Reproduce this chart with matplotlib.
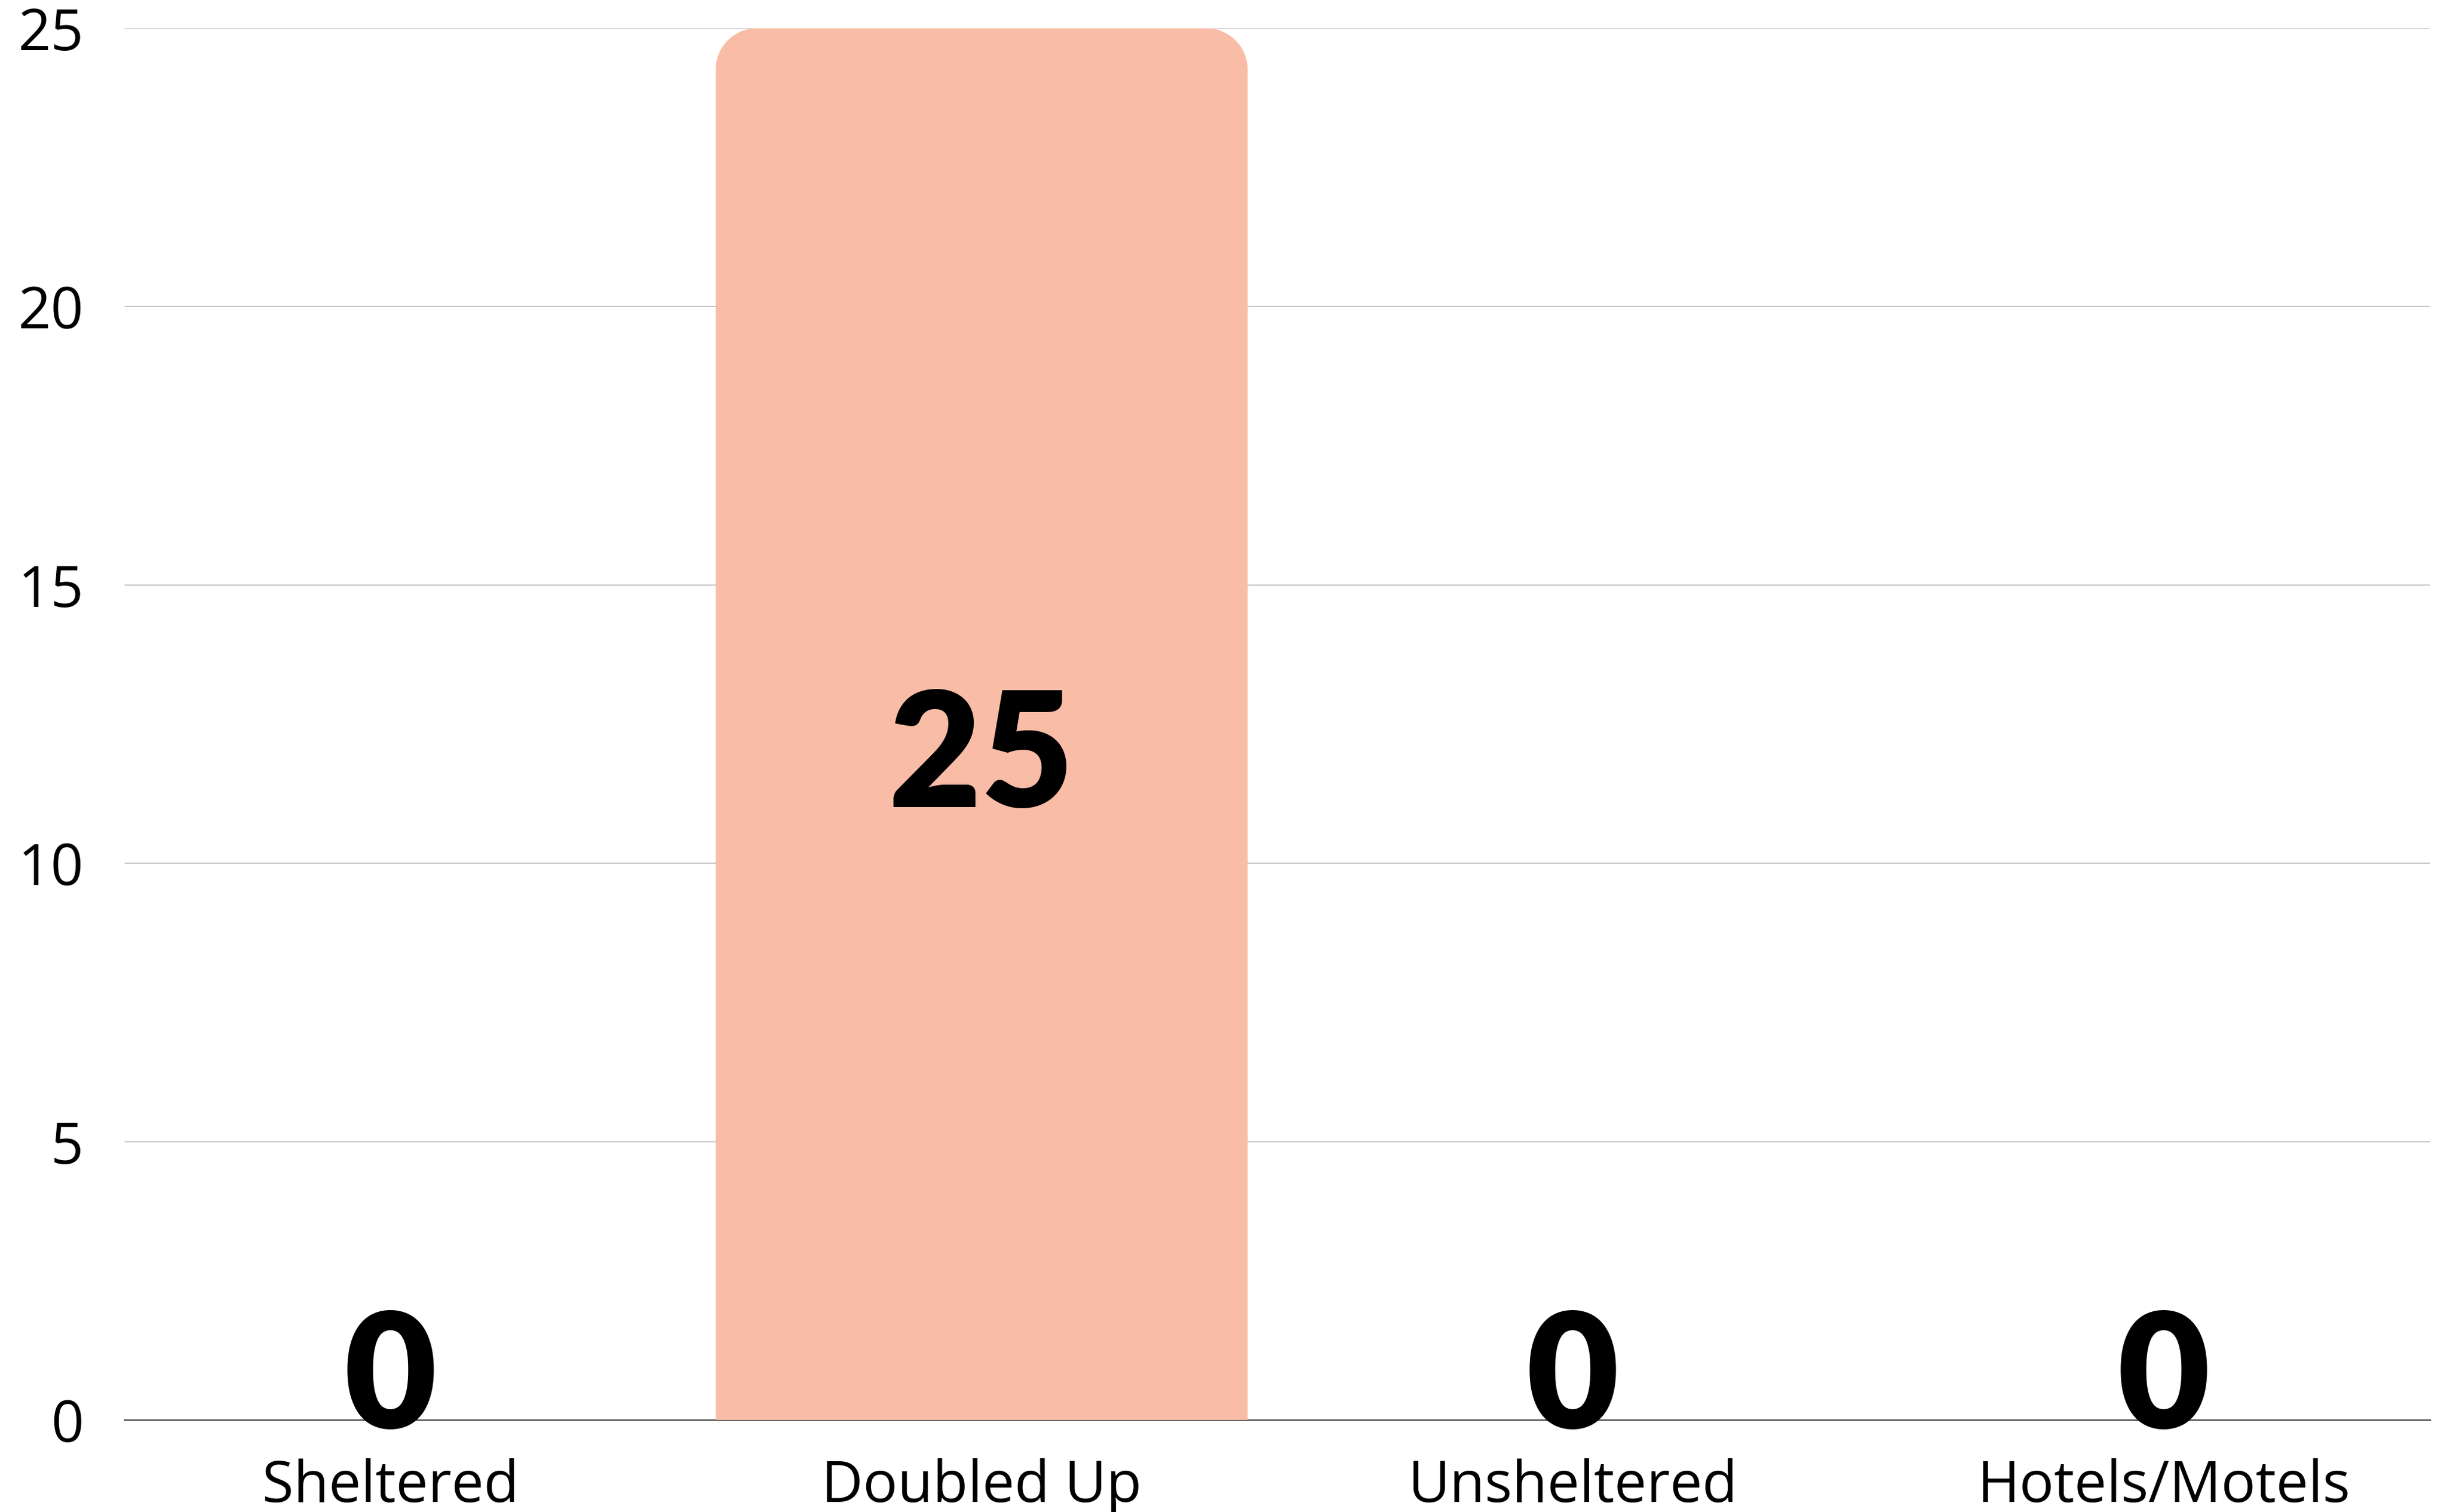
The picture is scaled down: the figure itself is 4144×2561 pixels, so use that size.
import matplotlib
matplotlib.use("Agg")
import matplotlib.pyplot as plt
from matplotlib.path import Path
from matplotlib.patches import PathPatch

categories = ["Sheltered", "Doubled Up", "Unsheltered", "Hotels/Motels"]
counts = [0, 25, 0, 0]
y_ticks = [0, 5, 10, 15, 20, 25]

BAR_COLOR = "#F9BCA6"
TICK_FONT = "Open Sans"
VALUE_FONT = "Lato"

fig = plt.figure(figsize=(41.44, 25.61), dpi=100)
ax = fig.add_axes([0.0509, 0.0609, 0.9421, 0.9204])

x = list(range(len(categories)))
bars = ax.bar(x, counts, width=0.9, color=BAR_COLOR, zorder=2)

ax.set_xlim(-0.45, len(categories) - 0.55)
ax.set_ylim(0, 25)


def rounded_top(rect, rx, ry):
    # rectangle with rounded top corners (elliptic in data units)
    x0, y0 = rect.get_x(), rect.get_y()
    w, h = rect.get_width(), rect.get_height()
    x1, y1 = x0 + w, y0 + h
    k = 0.5523
    verts = [
        (x0, y0), (x0, y1 - ry),
        (x0, y1 - ry + k * ry), (x0 + rx - k * rx, y1), (x0 + rx, y1),
        (x1 - rx, y1),
        (x1 - rx + k * rx, y1), (x1, y1 - ry + k * ry), (x1, y1 - ry),
        (x1, y0), (x0, y0),
    ]
    codes = [Path.MOVETO, Path.LINETO,
             Path.CURVE4, Path.CURVE4, Path.CURVE4,
             Path.LINETO,
             Path.CURVE4, Path.CURVE4, Path.CURVE4,
             Path.LINETO, Path.CLOSEPOLY]
    return Path(verts, codes)


# corner radius ~70 px converted to data units
px_x = (ax.get_xlim()[1] - ax.get_xlim()[0]) / (fig.get_figwidth() * fig.dpi * 0.9421)
px_y = (ax.get_ylim()[1] - ax.get_ylim()[0]) / (fig.get_figheight() * fig.dpi * 0.9204)
for b in bars:
    if b.get_height() > 0:
        b.set_visible(False)
        ax.add_patch(PathPatch(rounded_top(b, 70 * px_x, 70 * px_y),
                               facecolor=BAR_COLOR, edgecolor="none", zorder=2))

# value labels
for xi, v in zip(x, counts):
    if v > 0:
        ax.annotate(str(v), (xi, v / 2), xytext=(0, -44), textcoords="offset points",
                    ha="center", va="center", fontsize=195,
                    fontfamily=VALUE_FONT, fontweight="heavy", color="black", zorder=3)
    else:
        ax.annotate(str(v), (xi, 0), xytext=(0, -10), textcoords="offset points",
                    ha="center", va="baseline", fontsize=195,
                    fontfamily=VALUE_FONT, fontweight="heavy", color="black", zorder=3)

ax.set_yticks(y_ticks)
ax.set_yticklabels([str(t) for t in y_ticks], fontsize=70, fontfamily=TICK_FONT)
ax.set_xticks(x)
ax.set_xticklabels(categories, fontsize=70, fontfamily=TICK_FONT)
ax.tick_params(axis="both", length=0)
ax.tick_params(axis="y", pad=50)
ax.tick_params(axis="x", pad=47)

ax.yaxis.grid(True, color="#C4C4C4", linewidth=1.5, zorder=0)
ax.set_axisbelow(True)
for side in ["top", "right", "left"]:
    ax.spines[side].set_visible(False)
ax.spines["bottom"].set_color("#666666")
ax.spines["bottom"].set_linewidth(2.2)
ax.spines["bottom"].set_zorder(1)

fig.savefig("out.png", dpi=100, facecolor="white")
